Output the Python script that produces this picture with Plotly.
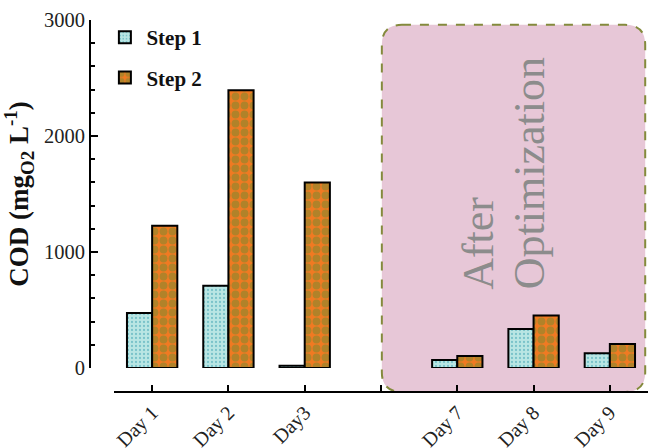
import plotly.graph_objects as go

categories = ["Day 1", "Day 2", "Day3", "", "Day 7", "Day 8", "Day 9"]
positions = [0, 1, 2, 4, 5, 6]
step1 = [475, 709, 20, 69, 337, 127]
step2 = [1227, 2394, 1600, 104, 452, 207]
ytick_vals = [0, 1000, 2000, 3000]

FONT = "Liberation Serif, Times New Roman, serif"

fig = go.Figure()
fig.add_trace(go.Bar(
    x=positions, y=step1, name="<b>Step 1</b>", legendgroup="a",
    marker=dict(color="#b9e6e4", line=dict(color="black", width=2),
                pattern=dict(shape=".", fgcolor="#3a9fb0", bgcolor="#b9e6e4",
                             size=4, solidity=0.25, fillmode="overlay")),
))
fig.add_trace(go.Bar(
    x=positions, y=step2, name="<b>Step 2</b>", legendgroup="b",
    marker=dict(color="#f07a22", line=dict(color="black", width=2),
                pattern=dict(shape=".", fgcolor="#718a30", bgcolor="#f07a22",
                             size=9, solidity=0.6, fillmode="overlay")),
))

# rounded "After Optimization" box in paper coordinates
x0, x1, y0, y1 = 0.523, 0.995, 0.0, 0.987
rx, ry = 0.036, 0.054
path = (f"M {x0+rx},{y1} L {x1-rx},{y1} Q {x1},{y1} {x1},{y1-ry} "
        f"L {x1},{y0+ry} Q {x1},{y0} {x1-rx},{y0} L {x0+rx},{y0} "
        f"Q {x0},{y0} {x0},{y0+ry} L {x0},{y1-ry} Q {x0},{y1} {x0+rx},{y1} Z")
fig.add_shape(type="path", path=path, xref="paper", yref="paper",
              fillcolor="#e7c7d7", line=dict(color="#848a3c", width=2, dash="dash"),
              layer="below")

for txt, xc in [("After", 0.695), ("Optimization", 0.788)]:
    fig.add_annotation(text=txt, xref="paper", yref="paper",
                       x=xc, y=0.27, xanchor="center", yanchor="bottom",
                       showarrow=False, textangle=-90,
                       font=dict(family=FONT, size=44, color="#8c8c8c"))

fig.update_layout(
    width=648, height=448,
    margin=dict(l=90, r=0, t=20, b=56),
    paper_bgcolor="white", plot_bgcolor="rgba(0,0,0,0)",
    barmode="group", bargap=0.34, bargroupgap=0,
    font=dict(family=FONT, color="#222"),
    legend=dict(x=0.024, y=1.008, xanchor="left", yanchor="top",
                font=dict(family=FONT, size=21, color="#111"),
                bgcolor="rgba(0,0,0,0)", tracegroupgap=10, itemwidth=33),
    xaxis=dict(domain=[0.043, 1], anchor="free", position=0,
               range=[-0.5, 6.5], tickmode="array",
               tickvals=list(range(7)), ticktext=categories,
               tickangle=-45, ticks="inside", ticklen=6, tickwidth=2,
               tickcolor="black", showline=True, linecolor="black", linewidth=2,
               showgrid=False, zeroline=False, automargin=False,
               tickfont=dict(family=FONT, size=20, color="#222")),
    yaxis=dict(domain=[0.0645, 1], anchor="free", position=0,
               range=[0, 3000], tickmode="array", tickvals=ytick_vals,
               ticks="inside", ticklen=7, tickwidth=2, tickcolor="black",
               minor=dict(dtick=200, tick0=0, ticks="inside", ticklen=4,
                          tickwidth=2, tickcolor="black", showgrid=False),
               showline=True, linecolor="black", linewidth=2,
               showgrid=False, zeroline=False, automargin=False,
               tickfont=dict(family=FONT, size=20.5, color="#222"),
               title=dict(text="<b>COD (mg<sub>O2</sub> L<sup>-1</sup>)</b>",
                          font=dict(family=FONT, size=27, color="#111"),
                          standoff=9)),
)

fig.write_html("out.html", config={"displayModeBar": False},
               post_script="document.body.style.margin='0';")
